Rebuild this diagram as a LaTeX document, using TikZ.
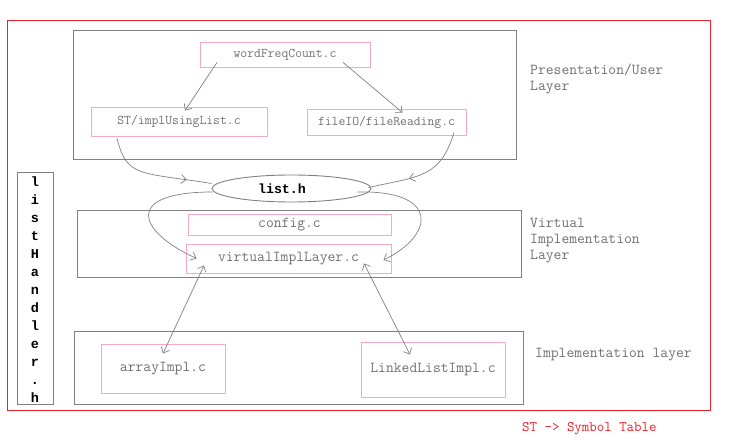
\documentclass[tikz,border=0pt]{standalone}
\usepackage{fontspec}
\newfontfamily\bmono{Liberation Mono}
\usetikzlibrary{shapes.geometric,arrows.meta,decorations.markings}
\definecolor{lay}{HTML}{808080}
\definecolor{pnk}{HTML}{F7A8C8}
\definecolor{txt}{HTML}{707070}
\definecolor{redc}{HTML}{E8222A}
\tikzset{
  layerbox/.style={draw=lay,line width=0.9pt,inner sep=0pt},
  filebox/.style={draw=pnk,line width=0.9pt,inner sep=0pt,text=txt,font=\ttfamily\fontsize{13.3}{16}\selectfont},
  bigfile/.style={filebox,font=\ttfamily\fontsize{15.2}{16}\selectfont},
  lbl/.style={anchor=west,align=left,text=txt,inner sep=0pt,font=\ttfamily\fontsize{15.2}{16}\selectfont},
  conn/.style={draw=lay,line width=0.7pt},
  tip/.style={-{Straight Barb[length=5pt,width=9pt]}},
  dtip/.style={{Straight Barb[length=5pt,width=9pt]}-{Straight Barb[length=5pt,width=9pt]}},
}
\begin{document}
\begin{tikzpicture}[x=1pt,y=-1pt]
\useasboundingbox (0,0) rectangle (729,446);
% outer red frame
\node[draw=redc,line width=0.9pt,inner sep=0pt,minimum width=703pt,minimum height=390pt] (frame) at (358.5,215) {};
% layers
\node[layerbox,minimum width=443pt,minimum height=129pt] (pres) at (294.5,94.5) {};
\node[layerbox,minimum width=444pt,minimum height=67pt] (virt) at (299,243.5) {};
\node[layerbox,minimum width=449pt,minimum height=73pt] (impl) at (298.5,367.5) {};
% listHandler.h
\node[layerbox,minimum width=36pt,minimum height=232pt] (lhbox) at (35,288) {};
\node[align=center,inner sep=0pt,font=\bmono\bfseries\fontsize{13.5}{18}\selectfont] (lh) at (35,290)
  {l\\i\\s\\t\\H\\a\\n\\d\\l\\e\\r\\.\\h};
% files
\node[filebox,minimum width=170pt,minimum height=25pt] (wfc) at (285,54.5) {wordFreqCount.c};
\node[filebox,minimum width=176pt,minimum height=29pt] (st) at (179,121.5) {ST/implUsingList.c};
\node[filebox,minimum width=159pt,minimum height=26pt] (fio) at (386.5,122) {fileIO/fileReading.c};
\node[bigfile,minimum width=203pt,minimum height=21pt] (cfg) at (289.5,224.5) {config.c};
\node[bigfile,minimum width=205pt,minimum height=29pt] (vil) at (288.5,258.5) {virtualImplLayer.c};
\node[bigfile,minimum width=124pt,minimum height=49pt] (arr) at (163,368.5) {arrayImpl.c};
\node[bigfile,minimum width=144pt,minimum height=55pt] (lli) at (433,369.5) {LinkedListImpl.c};
% list.h ellipse
\node[ellipse,draw=lay,line width=0.9pt,inner sep=0pt,minimum width=159pt,minimum height=27pt] (listh) at (291.5,188.5) {};
\node[inner sep=0pt,font=\bmono\bfseries\fontsize{13.3}{16}\selectfont] (listht) at (282,189) {list.h};
% layer labels
\node[lbl] (plbl) at (530,79) {Presentation/User\\Layer};
\node[lbl] (vlbl) at (530,241) {Virtual\\Implementation\\Layer};
\node[lbl] (ilbl) at (535,355) {Implementation layer};
\node[lbl,text=redc,font=\ttfamily\fontsize{14.5}{16}\selectfont] (note) at (522,429) {ST\ ->\ Symbol\ Table};
% connectors
\draw[conn,tip] ([xshift=-68pt,yshift=5pt]wfc.south) -- ([xshift=6pt,yshift=-4pt]st.north);
\draw[conn,tip] ([xshift=58pt,yshift=5pt]wfc.south) -- ([xshift=16pt,yshift=-4pt]fio.north);
\draw[conn,postaction={decorate},decoration={markings,mark=at position 0.78 with {\arrow{Straight Barb[length=5pt,width=9pt]}}}]
  ([xshift=-62pt,yshift=-2pt]st.south) .. controls (127,178) and (140,172) .. ([yshift=5pt]listh.west);
\draw[conn,postaction={decorate},decoration={markings,mark=at position 0.62 with {\arrow{Straight Barb[length=5pt,width=9pt]}}}]
  ([xshift=67.5pt,yshift=3pt]fio.south) .. controls (440,178) and (420,176) .. ([xshift=-3pt,yshift=1pt]listh.east);
\draw[conn,tip] ([xshift=1pt,yshift=-3.5pt]listh.west) .. controls (125,192) and (135,230) .. ([xshift=11pt]vil.west);
\draw[conn,tip] ([xshift=-14pt,yshift=-3.5pt]listh.east) .. controls (440,190) and (435,235) .. ([xshift=-8pt,yshift=-1.5pt]vil.east);
\draw[conn,dtip] ([xshift=-84.5pt,yshift=8pt]vil.south) -- ([yshift=-10pt]arr.north);
\draw[conn,dtip] ([xshift=75.5pt,yshift=10pt]vil.south) -- ([xshift=-23pt,yshift=-13pt]lli.north);
\end{tikzpicture}
\end{document}
